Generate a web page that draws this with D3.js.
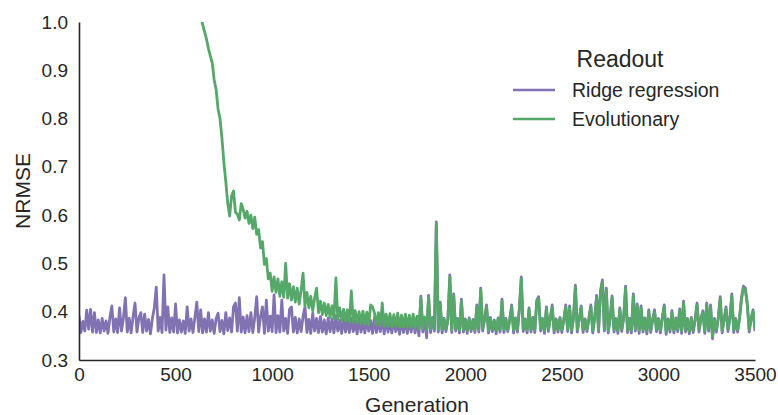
<!DOCTYPE html>
<html><head><meta charset="utf-8">
<script src="https://cdn.jsdelivr.net/npm/d3@7"></script>
<style>
body{margin:0;background:#fff;}
text{font-family:"Liberation Sans",Arial,sans-serif;fill:#262626;}
</style></head>
<body><svg id="chart" width="778" height="415"></svg>
<script>
const seriesNames = ["Ridge regression", "Evolutionary"];
const legendTitle = "Readout";
const xTicks = [0, 500, 1000, 1500, 2000, 2500, 3000, 3500];
const yTicks = [0.3, 0.4, 0.5, 0.6, 0.7, 0.8, 0.9, 1.0];
const genStep = 10;
const ridgeStartGen = 0;
const ridge = [
0.392,0.357,0.380,0.360,0.403,0.364,0.405,0.358,0.398,0.357,
0.383,0.356,0.386,0.360,0.381,0.355,0.388,0.412,0.358,0.385,
0.357,0.408,0.360,0.387,0.429,0.358,0.386,0.356,0.390,0.418,
0.358,0.387,0.398,0.357,0.395,0.360,0.384,0.354,0.386,0.408,
0.451,0.360,0.388,0.357,0.476,0.362,0.410,0.357,0.387,0.358,
0.416,0.356,0.383,0.358,0.381,0.355,0.410,0.360,0.385,0.357,
0.388,0.420,0.359,0.404,0.356,0.385,0.358,0.398,0.360,0.383,
0.355,0.386,0.397,0.359,0.382,0.354,0.398,0.361,0.387,0.358,
0.410,0.418,0.360,0.429,0.358,0.389,0.356,0.392,0.359,0.398,
0.357,0.388,0.431,0.358,0.390,0.410,0.355,0.424,0.360,0.391,
0.359,0.435,0.357,0.392,0.358,0.424,0.360,0.386,0.355,0.405,
0.410,0.358,0.388,0.356,0.385,0.359,0.390,0.410,0.357,0.384,
0.355,0.397,0.360,0.386,0.357,0.390,0.358,0.383,0.354,0.387,
0.359,0.385,0.356,0.392,0.360,0.382,0.355,0.388,0.358,0.384,
0.357,0.386,0.359,0.381,0.354,0.390,0.358,0.384,0.356,0.387,
0.360,0.382,0.355,0.388,0.357,0.383,0.359,0.386,0.354,0.385,
0.358,0.381,0.356,0.387,0.359,0.382,0.353,0.386,0.357,0.384,
0.355,0.383,0.358,0.388,0.356,0.385,0.350,0.432,0.358,0.387,
0.346,0.434,0.357,0.388,0.360,0.586,0.358,0.420,0.356,0.386,
0.359,0.385,0.476,0.357,0.437,0.360,0.386,0.356,0.426,0.358,
0.385,0.355,0.387,0.359,0.384,0.357,0.414,0.358,0.449,0.360,
0.386,0.414,0.356,0.388,0.359,0.383,0.354,0.387,0.358,0.426,
0.357,0.386,0.359,0.384,0.414,0.356,0.387,0.358,0.408,0.472,
0.359,0.385,0.356,0.408,0.358,0.388,0.357,0.424,0.431,0.360,
0.386,0.355,0.410,0.359,0.387,0.414,0.356,0.385,0.358,0.388,
0.357,0.384,0.414,0.359,0.412,0.356,0.388,0.455,0.358,0.386,
0.412,0.357,0.385,0.359,0.387,0.414,0.356,0.388,0.434,0.358,
0.443,0.466,0.360,0.449,0.356,0.387,0.433,0.358,0.386,0.355,
0.408,0.359,0.388,0.453,0.357,0.386,0.356,0.437,0.360,0.416,
0.355,0.412,0.358,0.387,0.354,0.404,0.357,0.385,0.404,0.359,
0.386,0.356,0.388,0.414,0.353,0.385,0.358,0.402,0.356,0.387,
0.359,0.406,0.355,0.422,0.358,0.386,0.354,0.388,0.357,0.384,
0.418,0.358,0.387,0.402,0.355,0.418,0.360,0.414,0.344,0.386,
0.358,0.388,0.431,0.356,0.385,0.410,0.359,0.387,0.437,0.357,
0.386,0.358,0.388,0.429,0.453,0.449,0.418,0.358,0.387,0.404,
0.360];
const evoStartGen = 620;
const evolutionary = [
1.040,1.015,0.995,0.980,0.965,0.945,0.930,0.915,
0.880,0.860,0.820,0.800,0.760,0.710,0.670,0.625,0.598,0.640,
0.650,0.606,0.602,0.590,0.624,0.612,0.594,0.608,0.583,0.600,
0.572,0.596,0.560,0.570,0.532,0.545,0.498,0.510,0.468,0.480,
0.442,0.472,0.440,0.468,0.432,0.462,0.430,0.500,0.428,0.458,
0.424,0.452,0.420,0.449,0.416,0.445,0.480,0.412,0.440,0.408,
0.432,0.402,0.428,0.449,0.398,0.422,0.394,0.418,0.392,0.415,
0.388,0.412,0.386,0.470,0.384,0.408,0.382,0.405,0.381,0.404,
0.379,0.443,0.378,0.402,0.377,0.400,0.375,0.401,0.374,0.399,
0.373,0.414,0.410,0.397,0.372,0.398,0.371,0.418,0.370,0.395,
0.370,0.396,0.369,0.394,0.370,0.397,0.368,0.393,0.369,0.395,
0.367,0.393,0.368,0.395,0.366,0.391,0.364,0.428,0.365,0.389,
0.362,0.430,0.364,0.386,0.365,0.582,0.363,0.416,0.362,0.385,
0.364,0.383,0.472,0.362,0.433,0.365,0.384,0.361,0.422,0.363,
0.383,0.360,0.385,0.364,0.382,0.362,0.410,0.363,0.445,0.365,
0.384,0.410,0.361,0.386,0.364,0.381,0.360,0.385,0.363,0.422,
0.362,0.384,0.364,0.382,0.410,0.361,0.385,0.363,0.404,0.468,
0.364,0.383,0.361,0.404,0.363,0.386,0.362,0.420,0.427,0.365,
0.384,0.360,0.406,0.364,0.385,0.410,0.361,0.383,0.363,0.386,
0.362,0.382,0.410,0.364,0.408,0.361,0.386,0.451,0.363,0.384,
0.408,0.362,0.383,0.364,0.385,0.410,0.361,0.386,0.430,0.363,
0.439,0.462,0.365,0.445,0.361,0.385,0.429,0.363,0.384,0.360,
0.404,0.364,0.386,0.449,0.362,0.384,0.361,0.433,0.365,0.412,
0.360,0.408,0.363,0.385,0.359,0.400,0.362,0.383,0.400,0.364,
0.384,0.361,0.386,0.410,0.358,0.383,0.363,0.398,0.361,0.385,
0.364,0.402,0.360,0.418,0.363,0.384,0.359,0.386,0.362,0.382,
0.414,0.363,0.385,0.398,0.360,0.414,0.365,0.410,0.349,0.384,
0.363,0.386,0.427,0.361,0.383,0.406,0.364,0.385,0.433,0.362,
0.384,0.363,0.386,0.425,0.449,0.445,0.414,0.363,0.385,0.400,
0.365];
const colors = ["#8172b2", "#55a868"];

const svg = d3.select("#chart");
const m = {left: 79, right: 755, top: 22, bottom: 360};
const x = d3.scaleLinear().domain([0, 3500]).range([m.left, m.right]);
const y = d3.scaleLinear().domain([0.3, 1.0]).range([m.bottom, m.top]);

svg.append("defs").append("clipPath").attr("id", "clip")
  .append("rect").attr("x", m.left).attr("y", m.top)
  .attr("width", m.right - m.left).attr("height", m.bottom - m.top);

const line = d3.line().x(d => x(d[0])).y(d => y(d[1]));
const series = [
  ridge.map((v, i) => [ridgeStartGen + i * genStep, v]),
  evolutionary.map((v, i) => [evoStartGen + i * genStep, v])
];
const g = svg.append("g").attr("clip-path", "url(#clip)");
series.forEach((s, k) => {
  g.append("path").datum(s).attr("d", line)
    .attr("fill", "none").attr("stroke", colors[k])
    .attr("stroke-width", 2.8).attr("stroke-linejoin", "round");
});

// axes
const xAxis = d3.axisBottom(x).tickValues(xTicks).tickSize(0).tickPadding(8).tickFormat(d3.format("d"));
const yAxis = d3.axisLeft(y).tickValues(yTicks).tickSize(0).tickPadding(11).tickFormat(d3.format(".1f"));
const gx = svg.append("g").attr("transform", `translate(0,${m.bottom})`).call(xAxis);
const gy = svg.append("g").attr("transform", `translate(${m.left},0)`).call(yAxis);
[gx, gy].forEach(a => {
  a.select(".domain").attr("stroke", "#262626").attr("stroke-width", 1.6);
  a.selectAll("text").style("font-size", "19px").attr("fill", "#262626");
});

svg.append("text").attr("x", (m.left + m.right) / 2).attr("y", 412)
  .attr("text-anchor", "middle").style("font-size", "21px").text("Generation");
svg.append("text").attr("transform", `translate(30,${(m.top + m.bottom) / 2}) rotate(-90)`)
  .attr("text-anchor", "middle").style("font-size", "21px").text("NRMSE");

// legend
const lg = svg.append("g");
lg.append("text").attr("x", 620).attr("y", 67).attr("text-anchor", "middle")
  .style("font-size", "23px").text(legendTitle);
seriesNames.forEach((n, k) => {
  const yy = 90 + k * 29;
  lg.append("line").attr("x1", 513).attr("x2", 555).attr("y1", yy).attr("y2", yy)
    .attr("stroke", colors[k]).attr("stroke-width", 2.7);
  lg.append("text").attr("x", 572).attr("y", yy + 7).style("font-size", "19.5px").text(n);
});
</script></body></html>
